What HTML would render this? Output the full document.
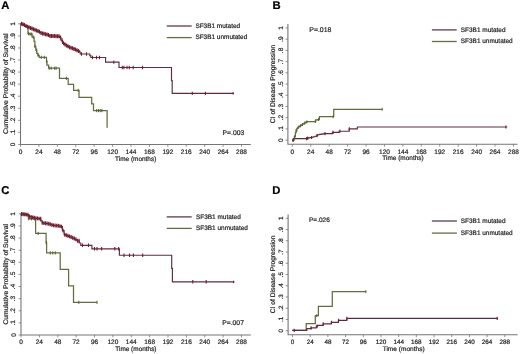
<!DOCTYPE html>
<html><head><meta charset="utf-8"><style>
html,body{margin:0;padding:0;background:#fff;overflow:hidden;}
svg{display:block;will-change:transform;}
text{font-family:"Liberation Sans", sans-serif;text-rendering:geometricPrecision;stroke:currentColor;stroke-width:0.2px;}
</style></head><body>
<svg width="520" height="354" viewBox="0 0 520 354">
<rect width="520" height="354" fill="#fff"/>
<text x="1.20" y="9.00" font-size="11.3" text-anchor="start" font-weight="bold" fill="#000" color="#000">A</text>
<path d="M20.5,23.3 V144.45 H250.8" fill="none" stroke="#767676" stroke-width="1.1"/>
<path d="M20.50,144.45 v2.4 M38.92,144.45 v2.4 M57.34,144.45 v2.4 M75.75,144.45 v2.4 M94.17,144.45 v2.4 M112.59,144.45 v2.4 M131.01,144.45 v2.4 M149.42,144.45 v2.4 M167.84,144.45 v2.4 M186.26,144.45 v2.4 M204.68,144.45 v2.4 M223.09,144.45 v2.4 M241.51,144.45 v2.4 M20.5,144.45 h-2.4 M20.5,132.39 h-2.4 M20.5,120.33 h-2.4 M20.5,108.27 h-2.4 M20.5,96.21 h-2.4 M20.5,84.15 h-2.4 M20.5,72.09 h-2.4 M20.5,60.03 h-2.4 M20.5,47.97 h-2.4 M20.5,35.91 h-2.4 M20.5,23.85 h-2.4 " stroke="#767676" stroke-width="0.8" fill="none"/>
<text x="20.50" y="154.00" font-size="6.5" text-anchor="middle" font-weight="normal" fill="#1e1e1e" color="#1e1e1e">0</text>
<text x="38.92" y="154.00" font-size="6.5" text-anchor="middle" font-weight="normal" fill="#1e1e1e" color="#1e1e1e">24</text>
<text x="57.34" y="154.00" font-size="6.5" text-anchor="middle" font-weight="normal" fill="#1e1e1e" color="#1e1e1e">48</text>
<text x="75.75" y="154.00" font-size="6.5" text-anchor="middle" font-weight="normal" fill="#1e1e1e" color="#1e1e1e">72</text>
<text x="94.17" y="154.00" font-size="6.5" text-anchor="middle" font-weight="normal" fill="#1e1e1e" color="#1e1e1e">96</text>
<text x="112.59" y="154.00" font-size="6.5" text-anchor="middle" font-weight="normal" fill="#1e1e1e" color="#1e1e1e">120</text>
<text x="131.01" y="154.00" font-size="6.5" text-anchor="middle" font-weight="normal" fill="#1e1e1e" color="#1e1e1e">144</text>
<text x="149.42" y="154.00" font-size="6.5" text-anchor="middle" font-weight="normal" fill="#1e1e1e" color="#1e1e1e">168</text>
<text x="167.84" y="154.00" font-size="6.5" text-anchor="middle" font-weight="normal" fill="#1e1e1e" color="#1e1e1e">192</text>
<text x="186.26" y="154.00" font-size="6.5" text-anchor="middle" font-weight="normal" fill="#1e1e1e" color="#1e1e1e">216</text>
<text x="204.68" y="154.00" font-size="6.5" text-anchor="middle" font-weight="normal" fill="#1e1e1e" color="#1e1e1e">240</text>
<text x="223.09" y="154.00" font-size="6.5" text-anchor="middle" font-weight="normal" fill="#1e1e1e" color="#1e1e1e">264</text>
<text x="241.51" y="154.00" font-size="6.5" text-anchor="middle" font-weight="normal" fill="#1e1e1e" color="#1e1e1e">288</text>
<text x="15.30" y="144.45" font-size="6.5" text-anchor="middle" font-weight="normal" fill="#1e1e1e" color="#1e1e1e" transform="rotate(-90 15.30 144.45)">0</text>
<text x="15.30" y="132.39" font-size="6.5" text-anchor="middle" font-weight="normal" fill="#1e1e1e" color="#1e1e1e" transform="rotate(-90 15.30 132.39)">.1</text>
<text x="15.30" y="120.33" font-size="6.5" text-anchor="middle" font-weight="normal" fill="#1e1e1e" color="#1e1e1e" transform="rotate(-90 15.30 120.33)">.2</text>
<text x="15.30" y="108.27" font-size="6.5" text-anchor="middle" font-weight="normal" fill="#1e1e1e" color="#1e1e1e" transform="rotate(-90 15.30 108.27)">.3</text>
<text x="15.30" y="96.21" font-size="6.5" text-anchor="middle" font-weight="normal" fill="#1e1e1e" color="#1e1e1e" transform="rotate(-90 15.30 96.21)">.4</text>
<text x="15.30" y="84.15" font-size="6.5" text-anchor="middle" font-weight="normal" fill="#1e1e1e" color="#1e1e1e" transform="rotate(-90 15.30 84.15)">.5</text>
<text x="15.30" y="72.09" font-size="6.5" text-anchor="middle" font-weight="normal" fill="#1e1e1e" color="#1e1e1e" transform="rotate(-90 15.30 72.09)">.6</text>
<text x="15.30" y="60.03" font-size="6.5" text-anchor="middle" font-weight="normal" fill="#1e1e1e" color="#1e1e1e" transform="rotate(-90 15.30 60.03)">.7</text>
<text x="15.30" y="47.97" font-size="6.5" text-anchor="middle" font-weight="normal" fill="#1e1e1e" color="#1e1e1e" transform="rotate(-90 15.30 47.97)">.8</text>
<text x="15.30" y="35.91" font-size="6.5" text-anchor="middle" font-weight="normal" fill="#1e1e1e" color="#1e1e1e" transform="rotate(-90 15.30 35.91)">.9</text>
<text x="15.30" y="23.85" font-size="6.5" text-anchor="middle" font-weight="normal" fill="#1e1e1e" color="#1e1e1e" transform="rotate(-90 15.30 23.85)">1</text>
<text x="7.90" y="83.70" font-size="6.75" text-anchor="middle" font-weight="normal" fill="#1e1e1e" color="#1e1e1e" transform="rotate(-90 7.90 83.70)">Cumulative Probability of Survival</text>
<text x="135.70" y="160.60" font-size="6.45" text-anchor="middle" font-weight="normal" fill="#1e1e1e" color="#1e1e1e">Time (months)</text>
<path d="M166.7,26.0 H191.7" stroke="#603c48" stroke-width="1.3"/>
<path d="M166.7,37.6 H191.7" stroke="#656d45" stroke-width="1.3"/>
<text x="195.40" y="27.75" font-size="6.45" text-anchor="start" font-weight="normal" fill="#1e1e1e" color="#1e1e1e">SF3B1 mutated</text>
<text x="195.40" y="39.35" font-size="6.45" text-anchor="start" font-weight="normal" fill="#1e1e1e" color="#1e1e1e">SF3B1 unmutated</text>
<text x="222.50" y="134.50" font-size="6.8" text-anchor="start" font-weight="normal" fill="#1e1e1e" color="#1e1e1e">P=.003</text>
<text x="272.50" y="9.10" font-size="11.3" text-anchor="start" font-weight="bold" fill="#000" color="#000">B</text>
<path d="M287.9,23.9 V144.3 H517.5" fill="none" stroke="#767676" stroke-width="1.1"/>
<path d="M292.30,144.3 v2.4 M310.73,144.3 v2.4 M329.16,144.3 v2.4 M347.60,144.3 v2.4 M366.03,144.3 v2.4 M384.46,144.3 v2.4 M402.89,144.3 v2.4 M421.32,144.3 v2.4 M439.76,144.3 v2.4 M458.19,144.3 v2.4 M476.62,144.3 v2.4 M495.05,144.3 v2.4 M513.48,144.3 v2.4 M287.9,140.10 h-2.4 M287.9,128.89 h-2.4 M287.9,117.68 h-2.4 M287.9,106.47 h-2.4 M287.9,95.26 h-2.4 M287.9,84.05 h-2.4 M287.9,72.84 h-2.4 M287.9,61.63 h-2.4 M287.9,50.42 h-2.4 M287.9,39.21 h-2.4 M287.9,28.00 h-2.4 " stroke="#767676" stroke-width="0.8" fill="none"/>
<text x="292.30" y="154.00" font-size="6.5" text-anchor="middle" font-weight="normal" fill="#1e1e1e" color="#1e1e1e">0</text>
<text x="310.73" y="154.00" font-size="6.5" text-anchor="middle" font-weight="normal" fill="#1e1e1e" color="#1e1e1e">24</text>
<text x="329.16" y="154.00" font-size="6.5" text-anchor="middle" font-weight="normal" fill="#1e1e1e" color="#1e1e1e">48</text>
<text x="347.60" y="154.00" font-size="6.5" text-anchor="middle" font-weight="normal" fill="#1e1e1e" color="#1e1e1e">72</text>
<text x="366.03" y="154.00" font-size="6.5" text-anchor="middle" font-weight="normal" fill="#1e1e1e" color="#1e1e1e">96</text>
<text x="384.46" y="154.00" font-size="6.5" text-anchor="middle" font-weight="normal" fill="#1e1e1e" color="#1e1e1e">120</text>
<text x="402.89" y="154.00" font-size="6.5" text-anchor="middle" font-weight="normal" fill="#1e1e1e" color="#1e1e1e">144</text>
<text x="421.32" y="154.00" font-size="6.5" text-anchor="middle" font-weight="normal" fill="#1e1e1e" color="#1e1e1e">168</text>
<text x="439.76" y="154.00" font-size="6.5" text-anchor="middle" font-weight="normal" fill="#1e1e1e" color="#1e1e1e">192</text>
<text x="458.19" y="154.00" font-size="6.5" text-anchor="middle" font-weight="normal" fill="#1e1e1e" color="#1e1e1e">216</text>
<text x="476.62" y="154.00" font-size="6.5" text-anchor="middle" font-weight="normal" fill="#1e1e1e" color="#1e1e1e">240</text>
<text x="495.05" y="154.00" font-size="6.5" text-anchor="middle" font-weight="normal" fill="#1e1e1e" color="#1e1e1e">264</text>
<text x="513.48" y="154.00" font-size="6.5" text-anchor="middle" font-weight="normal" fill="#1e1e1e" color="#1e1e1e">288</text>
<text x="282.65" y="140.10" font-size="6.5" text-anchor="middle" font-weight="normal" fill="#1e1e1e" color="#1e1e1e" transform="rotate(-90 282.65 140.10)">0</text>
<text x="282.65" y="128.89" font-size="6.5" text-anchor="middle" font-weight="normal" fill="#1e1e1e" color="#1e1e1e" transform="rotate(-90 282.65 128.89)">.1</text>
<text x="282.65" y="117.68" font-size="6.5" text-anchor="middle" font-weight="normal" fill="#1e1e1e" color="#1e1e1e" transform="rotate(-90 282.65 117.68)">.2</text>
<text x="282.65" y="106.47" font-size="6.5" text-anchor="middle" font-weight="normal" fill="#1e1e1e" color="#1e1e1e" transform="rotate(-90 282.65 106.47)">.3</text>
<text x="282.65" y="95.26" font-size="6.5" text-anchor="middle" font-weight="normal" fill="#1e1e1e" color="#1e1e1e" transform="rotate(-90 282.65 95.26)">.4</text>
<text x="282.65" y="84.05" font-size="6.5" text-anchor="middle" font-weight="normal" fill="#1e1e1e" color="#1e1e1e" transform="rotate(-90 282.65 84.05)">.5</text>
<text x="282.65" y="72.84" font-size="6.5" text-anchor="middle" font-weight="normal" fill="#1e1e1e" color="#1e1e1e" transform="rotate(-90 282.65 72.84)">.6</text>
<text x="282.65" y="61.63" font-size="6.5" text-anchor="middle" font-weight="normal" fill="#1e1e1e" color="#1e1e1e" transform="rotate(-90 282.65 61.63)">.7</text>
<text x="282.65" y="50.42" font-size="6.5" text-anchor="middle" font-weight="normal" fill="#1e1e1e" color="#1e1e1e" transform="rotate(-90 282.65 50.42)">.8</text>
<text x="282.65" y="39.21" font-size="6.5" text-anchor="middle" font-weight="normal" fill="#1e1e1e" color="#1e1e1e" transform="rotate(-90 282.65 39.21)">.9</text>
<text x="282.65" y="28.00" font-size="6.5" text-anchor="middle" font-weight="normal" fill="#1e1e1e" color="#1e1e1e" transform="rotate(-90 282.65 28.00)">1</text>
<text x="275.40" y="84.00" font-size="6.75" text-anchor="middle" font-weight="normal" fill="#1e1e1e" color="#1e1e1e" transform="rotate(-90 275.40 84.00)">CI of Disease Progression</text>
<text x="403.00" y="160.30" font-size="6.45" text-anchor="middle" font-weight="normal" fill="#1e1e1e" color="#1e1e1e">Time (months)</text>
<path d="M431.9,29.9 H456.7" stroke="#603c48" stroke-width="1.3"/>
<path d="M431.9,41.5 H456.7" stroke="#656d45" stroke-width="1.3"/>
<text x="460.80" y="31.65" font-size="6.45" text-anchor="start" font-weight="normal" fill="#1e1e1e" color="#1e1e1e">SF3B1 mutated</text>
<text x="460.80" y="43.25" font-size="6.45" text-anchor="start" font-weight="normal" fill="#1e1e1e" color="#1e1e1e">SF3B1 unmutated</text>
<text x="309.30" y="31.70" font-size="6.9" text-anchor="start" font-weight="normal" fill="#1e1e1e" color="#1e1e1e">P=.018</text>
<text x="1.20" y="194.10" font-size="11.3" text-anchor="start" font-weight="bold" fill="#000" color="#000">C</text>
<path d="M21.0,213.4 V335.0 H250.8" fill="none" stroke="#767676" stroke-width="1.1"/>
<path d="M21.00,335.0 v2.4 M39.37,335.0 v2.4 M57.75,335.0 v2.4 M76.12,335.0 v2.4 M94.50,335.0 v2.4 M112.87,335.0 v2.4 M131.25,335.0 v2.4 M149.62,335.0 v2.4 M168.00,335.0 v2.4 M186.37,335.0 v2.4 M204.74,335.0 v2.4 M223.12,335.0 v2.4 M241.49,335.0 v2.4 M21.0,335.00 h-2.4 M21.0,322.89 h-2.4 M21.0,310.78 h-2.4 M21.0,298.67 h-2.4 M21.0,286.56 h-2.4 M21.0,274.45 h-2.4 M21.0,262.34 h-2.4 M21.0,250.23 h-2.4 M21.0,238.12 h-2.4 M21.0,226.01 h-2.4 M21.0,213.90 h-2.4 " stroke="#767676" stroke-width="0.8" fill="none"/>
<text x="21.00" y="344.30" font-size="6.5" text-anchor="middle" font-weight="normal" fill="#1e1e1e" color="#1e1e1e">0</text>
<text x="39.37" y="344.30" font-size="6.5" text-anchor="middle" font-weight="normal" fill="#1e1e1e" color="#1e1e1e">24</text>
<text x="57.75" y="344.30" font-size="6.5" text-anchor="middle" font-weight="normal" fill="#1e1e1e" color="#1e1e1e">48</text>
<text x="76.12" y="344.30" font-size="6.5" text-anchor="middle" font-weight="normal" fill="#1e1e1e" color="#1e1e1e">72</text>
<text x="94.50" y="344.30" font-size="6.5" text-anchor="middle" font-weight="normal" fill="#1e1e1e" color="#1e1e1e">96</text>
<text x="112.87" y="344.30" font-size="6.5" text-anchor="middle" font-weight="normal" fill="#1e1e1e" color="#1e1e1e">120</text>
<text x="131.25" y="344.30" font-size="6.5" text-anchor="middle" font-weight="normal" fill="#1e1e1e" color="#1e1e1e">144</text>
<text x="149.62" y="344.30" font-size="6.5" text-anchor="middle" font-weight="normal" fill="#1e1e1e" color="#1e1e1e">168</text>
<text x="168.00" y="344.30" font-size="6.5" text-anchor="middle" font-weight="normal" fill="#1e1e1e" color="#1e1e1e">192</text>
<text x="186.37" y="344.30" font-size="6.5" text-anchor="middle" font-weight="normal" fill="#1e1e1e" color="#1e1e1e">216</text>
<text x="204.74" y="344.30" font-size="6.5" text-anchor="middle" font-weight="normal" fill="#1e1e1e" color="#1e1e1e">240</text>
<text x="223.12" y="344.30" font-size="6.5" text-anchor="middle" font-weight="normal" fill="#1e1e1e" color="#1e1e1e">264</text>
<text x="241.49" y="344.30" font-size="6.5" text-anchor="middle" font-weight="normal" fill="#1e1e1e" color="#1e1e1e">288</text>
<text x="15.50" y="335.00" font-size="6.5" text-anchor="middle" font-weight="normal" fill="#1e1e1e" color="#1e1e1e" transform="rotate(-90 15.50 335.00)">0</text>
<text x="15.50" y="322.89" font-size="6.5" text-anchor="middle" font-weight="normal" fill="#1e1e1e" color="#1e1e1e" transform="rotate(-90 15.50 322.89)">.1</text>
<text x="15.50" y="310.78" font-size="6.5" text-anchor="middle" font-weight="normal" fill="#1e1e1e" color="#1e1e1e" transform="rotate(-90 15.50 310.78)">.2</text>
<text x="15.50" y="298.67" font-size="6.5" text-anchor="middle" font-weight="normal" fill="#1e1e1e" color="#1e1e1e" transform="rotate(-90 15.50 298.67)">.3</text>
<text x="15.50" y="286.56" font-size="6.5" text-anchor="middle" font-weight="normal" fill="#1e1e1e" color="#1e1e1e" transform="rotate(-90 15.50 286.56)">.4</text>
<text x="15.50" y="274.45" font-size="6.5" text-anchor="middle" font-weight="normal" fill="#1e1e1e" color="#1e1e1e" transform="rotate(-90 15.50 274.45)">.5</text>
<text x="15.50" y="262.34" font-size="6.5" text-anchor="middle" font-weight="normal" fill="#1e1e1e" color="#1e1e1e" transform="rotate(-90 15.50 262.34)">.6</text>
<text x="15.50" y="250.23" font-size="6.5" text-anchor="middle" font-weight="normal" fill="#1e1e1e" color="#1e1e1e" transform="rotate(-90 15.50 250.23)">.7</text>
<text x="15.50" y="238.12" font-size="6.5" text-anchor="middle" font-weight="normal" fill="#1e1e1e" color="#1e1e1e" transform="rotate(-90 15.50 238.12)">.8</text>
<text x="15.50" y="226.01" font-size="6.5" text-anchor="middle" font-weight="normal" fill="#1e1e1e" color="#1e1e1e" transform="rotate(-90 15.50 226.01)">.9</text>
<text x="15.50" y="213.90" font-size="6.5" text-anchor="middle" font-weight="normal" fill="#1e1e1e" color="#1e1e1e" transform="rotate(-90 15.50 213.90)">1</text>
<text x="8.10" y="274.30" font-size="6.75" text-anchor="middle" font-weight="normal" fill="#1e1e1e" color="#1e1e1e" transform="rotate(-90 8.10 274.30)">Cumulative Probability of Survival</text>
<text x="135.90" y="351.10" font-size="6.45" text-anchor="middle" font-weight="normal" fill="#1e1e1e" color="#1e1e1e">Time (months)</text>
<path d="M166.7,216.9 H191.7" stroke="#603c48" stroke-width="1.3"/>
<path d="M166.7,228.4 H191.7" stroke="#656d45" stroke-width="1.3"/>
<text x="196.00" y="218.65" font-size="6.45" text-anchor="start" font-weight="normal" fill="#1e1e1e" color="#1e1e1e">SF3B1 mutated</text>
<text x="196.00" y="230.15" font-size="6.45" text-anchor="start" font-weight="normal" fill="#1e1e1e" color="#1e1e1e">SF3B1 unmutated</text>
<text x="222.20" y="325.20" font-size="6.8" text-anchor="start" font-weight="normal" fill="#1e1e1e" color="#1e1e1e">P=.007</text>
<text x="272.30" y="194.00" font-size="11.3" text-anchor="start" font-weight="bold" fill="#000" color="#000">D</text>
<path d="M288.1,214.4 V334.8 H517.7" fill="none" stroke="#767676" stroke-width="1.1"/>
<path d="M292.50,334.8 v2.4 M310.19,334.8 v2.4 M327.89,334.8 v2.4 M345.58,334.8 v2.4 M363.27,334.8 v2.4 M380.96,334.8 v2.4 M398.66,334.8 v2.4 M416.35,334.8 v2.4 M434.04,334.8 v2.4 M451.74,334.8 v2.4 M469.43,334.8 v2.4 M487.12,334.8 v2.4 M504.81,334.8 v2.4 M288.1,330.70 h-2.4 M288.1,319.46 h-2.4 M288.1,308.22 h-2.4 M288.1,296.98 h-2.4 M288.1,285.74 h-2.4 M288.1,274.50 h-2.4 M288.1,263.26 h-2.4 M288.1,252.02 h-2.4 M288.1,240.78 h-2.4 M288.1,229.54 h-2.4 M288.1,218.30 h-2.4 " stroke="#767676" stroke-width="0.8" fill="none"/>
<text x="292.50" y="344.30" font-size="6.3" text-anchor="middle" font-weight="normal" fill="#1e1e1e" color="#1e1e1e">0</text>
<text x="310.19" y="344.30" font-size="6.3" text-anchor="middle" font-weight="normal" fill="#1e1e1e" color="#1e1e1e">24</text>
<text x="327.89" y="344.30" font-size="6.3" text-anchor="middle" font-weight="normal" fill="#1e1e1e" color="#1e1e1e">48</text>
<text x="345.58" y="344.30" font-size="6.3" text-anchor="middle" font-weight="normal" fill="#1e1e1e" color="#1e1e1e">72</text>
<text x="363.27" y="344.30" font-size="6.3" text-anchor="middle" font-weight="normal" fill="#1e1e1e" color="#1e1e1e">96</text>
<text x="380.96" y="344.30" font-size="6.3" text-anchor="middle" font-weight="normal" fill="#1e1e1e" color="#1e1e1e">120</text>
<text x="398.66" y="344.30" font-size="6.3" text-anchor="middle" font-weight="normal" fill="#1e1e1e" color="#1e1e1e">144</text>
<text x="416.35" y="344.30" font-size="6.3" text-anchor="middle" font-weight="normal" fill="#1e1e1e" color="#1e1e1e">168</text>
<text x="434.04" y="344.30" font-size="6.3" text-anchor="middle" font-weight="normal" fill="#1e1e1e" color="#1e1e1e">192</text>
<text x="451.74" y="344.30" font-size="6.3" text-anchor="middle" font-weight="normal" fill="#1e1e1e" color="#1e1e1e">216</text>
<text x="469.43" y="344.30" font-size="6.3" text-anchor="middle" font-weight="normal" fill="#1e1e1e" color="#1e1e1e">240</text>
<text x="487.12" y="344.30" font-size="6.3" text-anchor="middle" font-weight="normal" fill="#1e1e1e" color="#1e1e1e">264</text>
<text x="504.81" y="344.30" font-size="6.3" text-anchor="middle" font-weight="normal" fill="#1e1e1e" color="#1e1e1e">288</text>
<text x="282.70" y="330.70" font-size="6.3" text-anchor="middle" font-weight="normal" fill="#1e1e1e" color="#1e1e1e" transform="rotate(-90 282.70 330.70)">0</text>
<text x="282.70" y="319.46" font-size="6.3" text-anchor="middle" font-weight="normal" fill="#1e1e1e" color="#1e1e1e" transform="rotate(-90 282.70 319.46)">.1</text>
<text x="282.70" y="308.22" font-size="6.3" text-anchor="middle" font-weight="normal" fill="#1e1e1e" color="#1e1e1e" transform="rotate(-90 282.70 308.22)">.2</text>
<text x="282.70" y="296.98" font-size="6.3" text-anchor="middle" font-weight="normal" fill="#1e1e1e" color="#1e1e1e" transform="rotate(-90 282.70 296.98)">.3</text>
<text x="282.70" y="285.74" font-size="6.3" text-anchor="middle" font-weight="normal" fill="#1e1e1e" color="#1e1e1e" transform="rotate(-90 282.70 285.74)">.4</text>
<text x="282.70" y="274.50" font-size="6.3" text-anchor="middle" font-weight="normal" fill="#1e1e1e" color="#1e1e1e" transform="rotate(-90 282.70 274.50)">.5</text>
<text x="282.70" y="263.26" font-size="6.3" text-anchor="middle" font-weight="normal" fill="#1e1e1e" color="#1e1e1e" transform="rotate(-90 282.70 263.26)">.6</text>
<text x="282.70" y="252.02" font-size="6.3" text-anchor="middle" font-weight="normal" fill="#1e1e1e" color="#1e1e1e" transform="rotate(-90 282.70 252.02)">.7</text>
<text x="282.70" y="240.78" font-size="6.3" text-anchor="middle" font-weight="normal" fill="#1e1e1e" color="#1e1e1e" transform="rotate(-90 282.70 240.78)">.8</text>
<text x="282.70" y="229.54" font-size="6.3" text-anchor="middle" font-weight="normal" fill="#1e1e1e" color="#1e1e1e" transform="rotate(-90 282.70 229.54)">.9</text>
<text x="282.70" y="218.30" font-size="6.3" text-anchor="middle" font-weight="normal" fill="#1e1e1e" color="#1e1e1e" transform="rotate(-90 282.70 218.30)">1</text>
<text x="275.20" y="274.40" font-size="6.7" text-anchor="middle" font-weight="normal" fill="#1e1e1e" color="#1e1e1e" transform="rotate(-90 275.20 274.40)">CI of Disease Progression</text>
<text x="403.65" y="350.80" font-size="6.55" text-anchor="middle" font-weight="normal" fill="#1e1e1e" color="#1e1e1e">Time (months)</text>
<path d="M431.9,221.0 H456.9" stroke="#603c48" stroke-width="1.3"/>
<path d="M431.9,233.1 H456.9" stroke="#656d45" stroke-width="1.3"/>
<text x="460.80" y="222.75" font-size="6.45" text-anchor="start" font-weight="normal" fill="#1e1e1e" color="#1e1e1e">SF3B1 mutated</text>
<text x="460.80" y="234.85" font-size="6.45" text-anchor="start" font-weight="normal" fill="#1e1e1e" color="#1e1e1e">SF3B1 unmutated</text>
<text x="309.00" y="221.90" font-size="6.5" text-anchor="start" font-weight="normal" fill="#1e1e1e" color="#1e1e1e">P=.026</text>
<path d="M20.50,23.70 L21.80,23.70 L21.80,24.36 L23.10,24.36 L23.10,25.02 L24.40,25.02 L24.40,25.68 L25.70,25.68 L25.70,26.34 L27.00,26.34 L27.00,27.00 L28.00,27.00 L28.00,33.60 L30.10,33.60 L30.10,34.10 L32.10,34.10 L32.10,37.20 L34.10,37.20 L34.10,41.30 L34.90,41.30 L34.90,46.30 L35.80,46.30 L35.80,50.20 L36.80,50.20 L36.80,53.30 L38.00,53.30 L38.00,55.30 L39.20,55.30 L39.20,57.30 L46.50,57.30 L46.50,61.50 L46.90,61.50 L46.90,65.00 L48.60,65.00 L48.60,68.20 L59.50,68.20 L59.50,78.30 L68.20,78.30 L68.20,84.40 L73.60,84.40 L73.60,90.40 L79.00,90.40 L79.00,97.30 L91.70,97.30 L91.70,103.80 L93.50,103.80 L93.50,110.60 L107.10,110.60 L107.10,127.70" fill="none" stroke="#626d40" stroke-width="1.25"/>
<path d="M28.50,32.00v3.20 M30.10,32.50v3.20 M31.70,32.50v3.20 M33.30,35.60v3.20 M34.90,44.70v3.20 M36.50,48.60v3.20 M38.10,53.70v3.20 M41.30,55.70v3.20 M44.30,55.70v3.20 M46.80,59.90v3.20 M49.20,66.60v3.20 M51.20,66.60v3.20 M54.70,66.60v3.20 M56.10,66.60v3.20 M66.40,76.70v3.20 M78.20,88.80v3.20 M96.70,109.00v3.20 M98.50,109.00v3.20 M100.20,109.00v3.20 M101.90,109.00v3.20" stroke="#526428" stroke-width="1.0" fill="none"/>
<path d="M21.00,214.00 L22.36,214.00 L22.36,214.16 L23.72,214.16 L23.72,214.32 L25.08,214.32 L25.08,214.48 L26.44,214.48 L26.44,214.64 L27.80,214.64 L27.80,214.80 L28.40,214.80 L28.40,218.80 L34.10,218.80 L35.00,218.80 L35.00,220.00 L35.60,220.00 L35.60,233.40 L46.10,233.40 L46.10,242.70 L46.60,242.70 L46.60,252.90 L60.20,252.90 L60.20,269.30 L68.60,269.30 L68.60,285.90 L73.50,285.90 L73.50,302.30 L97.00,302.30" fill="none" stroke="#626d40" stroke-width="1.25"/>
<path d="M23.00,212.56v3.20 M25.00,212.72v3.20 M28.80,217.20v3.20 M31.50,217.20v3.20 M38.20,231.80v3.20 M46.30,241.10v3.20 M50.30,251.30v3.20 M52.80,251.30v3.20 M55.30,251.30v3.20 M78.80,300.70v3.20 M97.00,300.70v3.20" stroke="#526428" stroke-width="1.0" fill="none"/>
<path d="M292.30,140.30 L293.35,140.30 L293.35,138.50 L294.40,138.50 L294.40,136.70 L295.40,136.70 L295.40,132.70 L296.15,132.70 L296.15,130.50 L296.90,130.50 L296.90,128.30 L297.90,128.30 L297.90,127.30 L298.90,127.30 L298.90,126.30 L299.85,126.30 L299.85,125.80 L300.80,125.80 L300.80,125.30 L301.80,125.30 L301.80,124.55 L302.80,124.55 L302.80,123.80 L304.05,123.80 L304.05,123.05 L305.30,123.05 L305.30,122.30 L306.30,122.30 L306.30,121.90 L307.30,121.90 L307.30,121.50 L315.50,121.50 L315.70,121.50 L315.70,119.90 L316.62,119.90 L316.62,119.78 L317.55,119.78 L317.55,119.65 L318.47,119.65 L318.47,119.53 L319.40,119.53 L319.40,119.40 L319.40,116.70 L333.70,116.70 L333.70,109.30 L382.20,109.30" fill="none" stroke="#626d40" stroke-width="1.25"/>
<path d="M294.60,135.20v3.00 M296.20,129.00v3.00 M298.30,125.80v3.00 M300.50,124.30v3.00 M302.50,123.05v3.00 M304.70,121.55v3.00 M306.80,120.40v3.00 M315.30,120.00v3.00 M318.50,118.03v3.00 M333.20,115.20v3.00 M382.20,107.80v3.00" stroke="#526428" stroke-width="1.0" fill="none"/>
<path d="M292.30,330.40 L306.20,330.40 L306.20,323.60 L315.30,323.60 L315.30,315.70 L318.40,315.70 L318.40,306.40 L332.30,306.40 L332.30,291.60 L365.90,291.60" fill="none" stroke="#626d40" stroke-width="1.25"/>
<path d="M365.90,290.10v3.00 M316.80,314.20v3.00" stroke="#526428" stroke-width="1.0" fill="none"/>
<path d="M20.50,23.70 L21.84,23.70 L21.84,24.30 L23.18,24.30 L23.18,24.90 L24.52,24.90 L24.52,25.50 L25.86,25.50 L25.86,26.10 L27.20,26.10 L27.20,26.70 L28.65,26.70 L28.65,27.32 L30.10,27.32 L30.10,27.95 L31.55,27.95 L31.55,28.57 L33.00,28.57 L33.00,29.20 L34.33,29.20 L34.33,29.83 L35.67,29.83 L35.67,30.47 L37.00,30.47 L37.00,31.10 L38.33,31.10 L38.33,31.73 L39.67,31.73 L39.67,32.37 L41.00,32.37 L41.00,33.00 L42.40,33.00 L42.40,33.40 L43.80,33.40 L43.80,33.80 L45.20,33.80 L45.20,34.20 L46.60,34.20 L46.60,34.60 L48.00,34.60 L48.00,35.00 L49.50,35.00 L49.50,35.90 L51.00,35.90 L51.00,35.97 L52.50,35.97 L52.50,36.03 L54.00,36.03 L54.00,36.10 L55.50,36.10 L55.50,36.17 L57.00,36.17 L57.00,36.23 L58.50,36.23 L58.50,36.30 L59.40,36.30 L59.40,37.50 L60.90,37.50 L60.90,40.20 L62.60,40.20 L62.60,43.30 L64.70,43.30 L64.70,44.60 L66.03,44.60 L66.03,45.47 L67.37,45.47 L67.37,46.33 L68.70,46.33 L68.70,47.20 L70.30,47.20 L70.30,47.77 L71.90,47.77 L71.90,48.33 L73.50,48.33 L73.50,48.90 L74.87,48.90 L74.87,49.57 L76.23,49.57 L76.23,50.23 L77.60,50.23 L77.60,50.90 L79.60,50.90 L79.60,52.00 L80.20,52.00 L80.20,54.00 L89.80,54.00 L89.80,55.60 L90.80,55.60 L90.80,57.50 L105.60,57.50 L105.60,62.10 L119.00,62.10 L119.00,67.50 L171.50,67.50 L171.50,80.60 L172.20,80.60 L172.20,93.40 L233.80,93.40" fill="none" stroke="#5c2e3b" stroke-width="1.15"/>
<path d="M21.50,21.70v4.00 M23.00,22.30v4.00 M24.50,22.90v4.00 M26.00,24.10v4.00 M27.50,24.70v4.00 M29.00,25.32v4.00 M30.50,25.95v4.00 M32.00,26.57v4.00 M33.50,27.20v4.00 M35.00,27.83v4.00 M36.50,28.47v4.00 M38.00,29.10v4.00 M39.50,29.73v4.00 M41.00,31.00v4.00 M42.50,31.40v4.00 M44.00,31.80v4.00 M45.50,32.20v4.00 M47.00,32.60v4.00 M48.50,33.00v4.00 M50.00,33.90v4.00 M51.50,33.97v4.00 M53.00,34.03v4.00 M54.50,34.10v4.00 M56.00,34.17v4.00 M57.50,34.23v4.00 M59.00,34.30v4.00 M60.50,35.50v4.00 M62.00,38.20v4.00 M63.50,41.30v4.00 M65.00,42.60v4.00 M66.50,43.47v4.00 M68.00,44.33v4.00 M69.50,45.20v4.00 M71.00,45.77v4.00 M72.50,46.33v4.00 M74.00,46.90v4.00 M75.50,47.57v4.00 M77.00,48.23v4.00 M78.50,48.90v4.00" stroke="#731d2f" stroke-width="1.2" fill="none"/>
<path d="M81.50,52.30v3.40 M86.50,52.30v3.40 M92.50,55.80v3.40 M96.50,55.80v3.40 M99.50,55.80v3.40 M113.80,60.40v3.40 M122.30,65.80v3.40 M123.90,65.80v3.40 M127.00,65.80v3.40 M129.30,65.80v3.40 M133.20,65.80v3.40 M142.50,65.80v3.40 M192.30,91.70v3.40 M205.40,91.70v3.40" stroke="#731d2f" stroke-width="1.1" fill="none"/>
<path d="M21.00,214.00 L22.55,214.00 L22.55,214.20 L24.10,214.20 L24.10,214.40 L25.65,214.40 L25.65,214.60 L27.20,214.60 L27.20,214.80 L28.35,214.80 L28.35,215.65 L29.50,215.65 L29.50,216.50 L30.95,216.50 L30.95,216.93 L32.40,216.93 L32.40,217.35 L33.85,217.35 L33.85,217.77 L35.30,217.77 L35.30,218.20 L36.63,218.20 L36.63,218.40 L37.97,218.40 L37.97,218.60 L39.30,218.60 L39.30,218.80 L40.75,218.80 L40.75,220.85 L42.20,220.85 L42.20,222.90 L43.65,222.90 L43.65,223.10 L45.10,223.10 L45.10,223.30 L46.55,223.30 L46.55,223.50 L48.00,223.50 L48.00,223.70 L49.53,223.70 L49.53,224.27 L51.07,224.27 L51.07,224.83 L52.60,224.83 L52.60,225.40 L54.13,225.40 L54.13,225.50 L55.67,225.50 L55.67,225.60 L57.20,225.60 L57.20,225.70 L58.95,225.70 L58.95,226.15 L60.70,226.15 L60.70,226.60 L62.40,226.60 L62.40,230.60 L64.10,230.60 L64.10,234.60 L65.57,234.60 L65.57,235.20 L67.05,235.20 L67.05,235.80 L68.53,235.80 L68.53,236.40 L70.00,236.40 L70.00,237.00 L71.50,237.00 L71.50,237.74 L73.00,237.74 L73.00,238.48 L74.50,238.48 L74.50,239.22 L76.00,239.22 L76.00,239.96 L77.50,239.96 L77.50,240.70 L79.15,240.70 L79.15,243.00 L80.80,243.00 L80.80,245.30 L90.20,245.30 L91.90,245.30 L91.90,248.80 L119.40,248.80 L119.40,255.20 L171.70,255.20 L171.70,268.40 L172.40,268.40 L172.40,281.80 L234.20,281.80" fill="none" stroke="#5c2e3b" stroke-width="1.15"/>
<path d="M21.50,212.05v3.90 M23.10,212.25v3.90 M24.70,212.45v3.90 M26.30,212.65v3.90 M27.90,212.85v3.90 M29.50,214.55v3.90 M31.10,214.98v3.90 M32.70,215.40v3.90 M34.30,215.82v3.90 M35.90,216.25v3.90 M37.50,216.45v3.90 M39.10,216.65v3.90 M40.70,216.85v3.90 M42.30,220.95v3.90 M43.90,221.15v3.90 M45.50,221.35v3.90 M47.10,221.55v3.90 M48.70,221.75v3.90 M50.30,222.32v3.90 M51.90,222.88v3.90 M53.50,223.45v3.90 M55.10,223.55v3.90 M56.70,223.65v3.90 M58.30,223.75v3.90 M59.90,224.20v3.90 M61.50,224.65v3.90 M63.10,228.65v3.90 M64.70,232.65v3.90 M66.30,233.25v3.90 M67.90,233.85v3.90 M69.50,234.45v3.90 M71.10,235.05v3.90 M72.70,235.79v3.90 M74.30,236.53v3.90 M75.90,237.27v3.90 M77.50,238.75v3.90 M79.10,238.75v3.90" stroke="#731d2f" stroke-width="1.2" fill="none"/>
<path d="M82.50,243.60v3.40 M88.50,243.60v3.40 M94.50,247.10v3.40 M97.00,247.10v3.40 M101.60,247.10v3.40 M114.80,247.10v3.40 M118.60,247.10v3.40 M124.00,253.50v3.40 M129.50,253.50v3.40 M133.40,253.50v3.40 M142.70,253.50v3.40 M192.80,280.10v3.40 M206.20,280.10v3.40" stroke="#731d2f" stroke-width="1.1" fill="none"/>
<path d="M292.30,140.30 L293.90,140.30 L293.90,138.60 L306.30,138.60 L306.80,138.60 L306.80,138.10 L308.43,138.10 L308.43,137.80 L310.07,137.80 L310.07,137.50 L311.70,137.50 L311.70,137.20 L313.33,137.20 L313.33,136.70 L314.97,136.70 L314.97,136.20 L316.60,136.20 L316.60,135.70 L317.60,135.70 L317.60,134.70 L319.33,134.70 L319.33,134.42 L321.05,134.42 L321.05,134.15 L322.77,134.15 L322.77,133.88 L324.50,133.88 L324.50,133.60 L332.40,133.60 L332.40,132.30 L339.10,132.30 L339.10,131.20 L349.20,131.20 L349.20,128.90 L357.30,128.90 L357.30,127.00 L507.30,127.00" fill="none" stroke="#5c2e3b" stroke-width="1.15"/>
<path d="M293.00,138.70v3.20 M306.60,137.00v3.20 M307.80,136.50v3.20 M311.60,135.90v3.20 M317.00,134.10v3.20 M325.00,132.00v3.20 M333.10,130.70v3.20 M339.90,129.60v3.20 M349.30,127.30v3.20 M505.90,125.40v3.20" stroke="#731d2f" stroke-width="1.1" fill="none"/>
<path d="M292.30,330.40 L306.80,330.40 L306.80,328.60 L311.10,328.60 L311.10,327.80 L315.50,327.80 L316.30,327.80 L316.30,326.30 L317.20,326.30 L317.20,325.40 L323.20,325.40 L323.20,323.90 L331.30,323.90 L331.30,322.30 L338.40,322.30 L338.40,320.40 L346.90,320.40 L346.90,318.40 L497.80,318.40" fill="none" stroke="#5c2e3b" stroke-width="1.15"/>
<path d="M294.20,328.80v3.20 M311.10,326.20v3.20 M317.00,324.70v3.20 M323.20,322.30v3.20 M331.50,320.70v3.20 M338.60,318.80v3.20 M346.90,316.80v3.20 M497.20,316.80v3.20" stroke="#731d2f" stroke-width="1.1" fill="none"/>
<path d="M233.20,92.30v2.20 M233.60,280.70v2.20" stroke="#731d2f" stroke-width="1.2" fill="none"/>
</svg>
</body></html>
